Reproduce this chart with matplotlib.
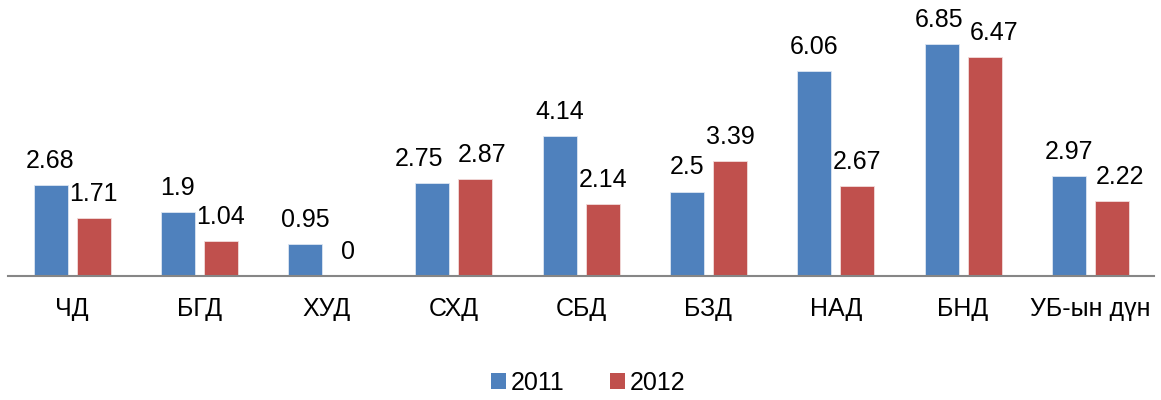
import matplotlib
matplotlib.use("Agg")
import matplotlib.pyplot as plt
import numpy as np
from matplotlib.patches import Patch

categories = ["ЧД", "БГД", "ХУД", "СХД", "СБД", "БЗД", "НАД", "БНД", "УБ-ын дүн"]
values_2011 = [2.68, 1.9, 0.95, 2.75, 4.14, 2.5, 6.06, 6.85, 2.97]
values_2012 = [1.71, 1.04, 0, 2.87, 2.14, 3.39, 2.67, 6.47, 2.22]
series_names = ["2011", "2012"]
colors = ["#4F81BD", "#C0504D"]

# manual horizontal nudges of some data labels (points), as in the original
label_dx = {(0, 3): -10, (1, 3): 5, (0, 7): -1.5, (1, 7): 7, (1, 8): 6}

plt.rcParams['font.family'] = ['Liberation Sans', 'DejaVu Sans']
FS = 18

fig = plt.figure(figsize=(11.61, 4.0), dpi=100)
W, H = 1161, 400
left_px, right_px = 8.4, 1154
base_px, top_px = 276, 5.6
ax = fig.add_axes([left_px / W, 1 - base_px / H, (right_px - left_px) / W, (base_px - top_px) / H])

x = np.arange(len(categories))
bw = 0.267
off = 0.169
b1 = ax.bar(x - off, values_2011, bw, color=colors[0], edgecolor="#DCE6F2", linewidth=0.6)
b2 = ax.bar(x + off, values_2012, bw, color=colors[1], edgecolor="#F2DCDB", linewidth=0.6)

for si, (bars, vals) in enumerate(((b1, values_2011), (b2, values_2012))):
    for ci, (rect, v) in enumerate(zip(bars, vals)):
        dx = label_dx.get((si, ci), 0)
        ax.annotate(f"{v:g}", (rect.get_x() + rect.get_width() / 2, v),
                    xytext=(dx, 12.3), textcoords="offset points",
                    ha="center", va="baseline", fontsize=FS, color="black")

ax.set_xlim(-0.5, len(categories) - 0.5)
ax.set_ylim(0, 8)
ax.set_xticks(x)
ax.set_xticklabels(categories, fontsize=FS)
ax.tick_params(axis="x", length=0, pad=15)
ax.set_yticks([])
for s in ["top", "right", "left"]:
    ax.spines[s].set_visible(False)
ax.spines["bottom"].set_color("#868686")
ax.spines["bottom"].set_linewidth(1.5)

handles = [Patch(facecolor=c, edgecolor="none") for c in colors]
fig.legend(handles, series_names, loc="center", bbox_to_anchor=(588 / W, 1 - 383 / H),
           ncol=2, frameon=False, fontsize=FS, handlelength=0.6, handleheight=0.6,
           handletextpad=0.2, columnspacing=1.8)

fig.savefig("out.png", dpi=100)
